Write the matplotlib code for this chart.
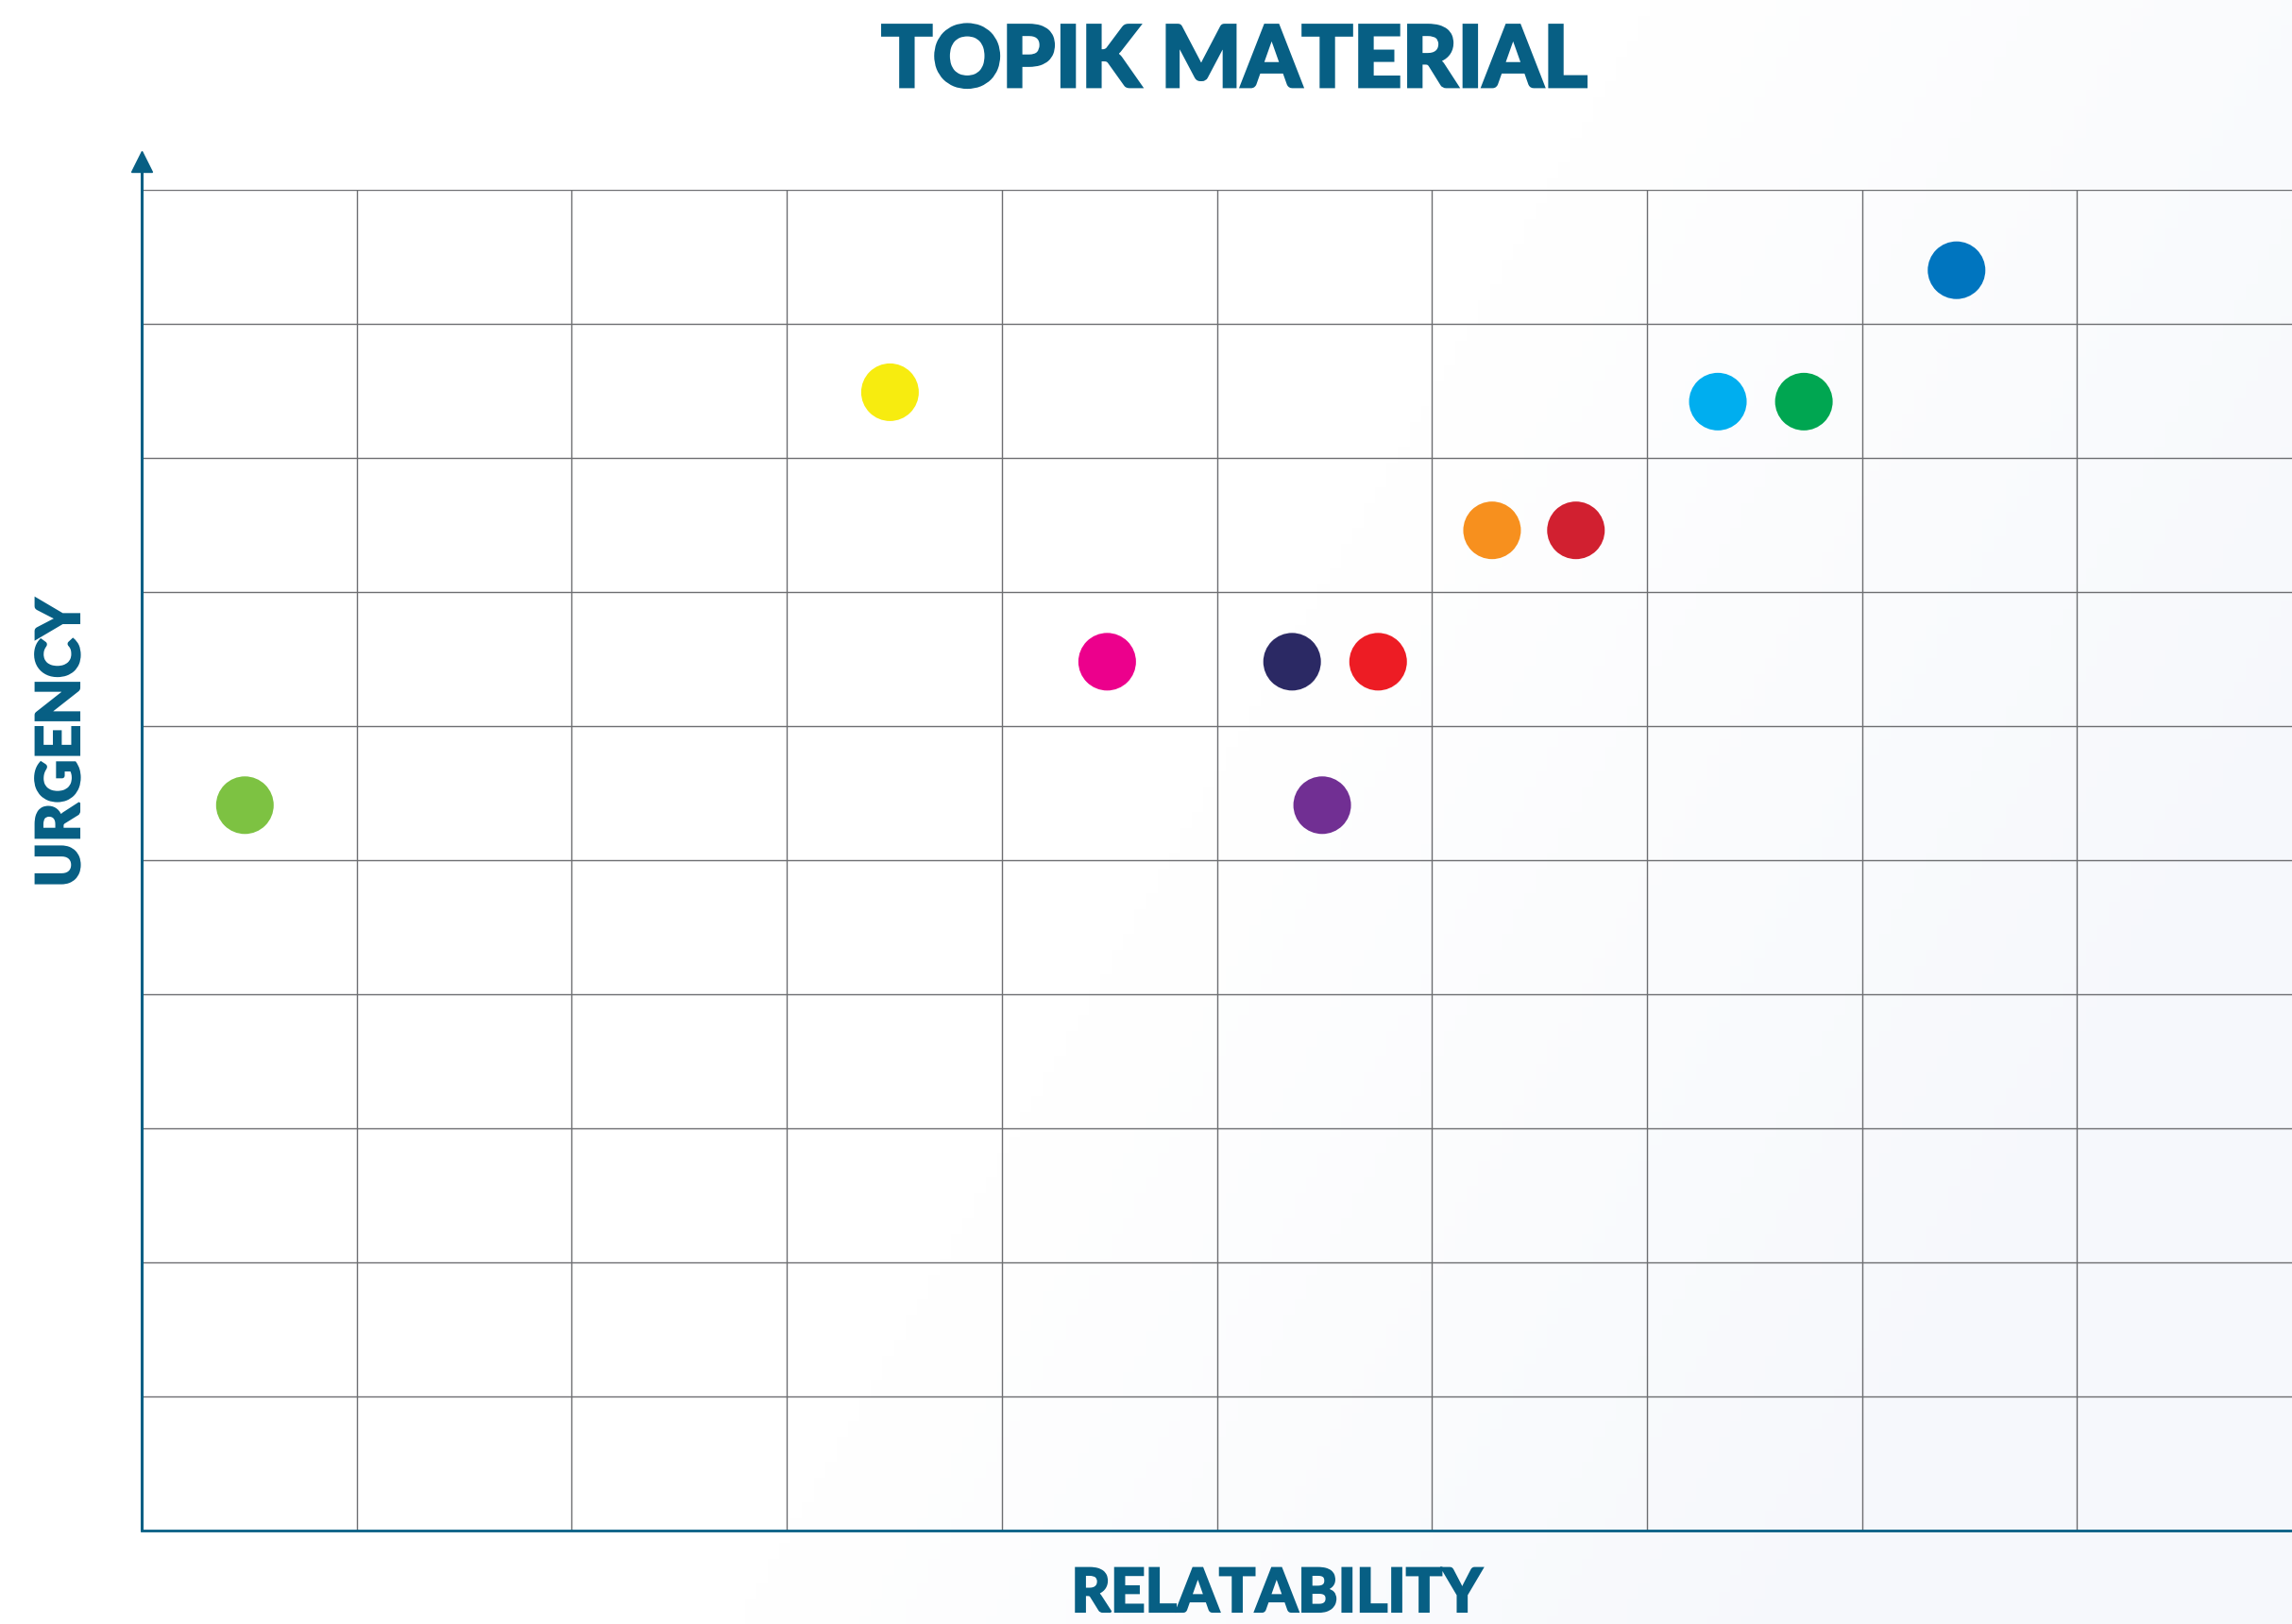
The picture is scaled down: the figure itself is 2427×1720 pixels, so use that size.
import numpy as np
import matplotlib
matplotlib.use("Agg")
import matplotlib.pyplot as plt
import matplotlib.patheffects as pe
from matplotlib.colors import LinearSegmentedColormap

# topics on a 10 x 10 relatability / urgency grid
relatability = [0.48, 3.48, 4.49, 5.35, 5.75, 5.49, 6.28, 6.67, 7.33, 7.73, 8.44]
urgency = [5.41, 8.49, 6.48, 6.48, 6.48, 5.41, 7.46, 7.46, 8.42, 8.42, 9.40]
dot_colors = ["#7dc242", "#f7ec0f", "#ec008c", "#2b2964", "#ed1c24", "#712f93",
              "#f7901e", "#d12030", "#00aeef", "#00a651", "#0075bf"]

title = "TOPIK MATERIAL"
xlabel = "RELATABILITY"
ylabel = "URGENCY"

teal = "#075f84"
grid_gray = "#6d6e71"

W, H = 2427, 1720
fig = plt.figure(figsize=(W / 100, H / 100), dpi=100)

# very faint bluish wash in the bottom right corner
bg = fig.add_axes([0, 0, 1, 1], zorder=0)
xx, yy = np.meshgrid(np.linspace(0, 1, 200), np.linspace(0, 1, 200))
wash = np.clip((xx - 0.6) * 2.0 + (yy - 0.3) * 0.8, 0, 1)
cmap = LinearSegmentedColormap.from_list("wash", ["#ffffff", "#f6f8fc"])
bg.imshow(wash, cmap=cmap, aspect="auto", extent=[0, 1, 0, 1], origin="upper")
bg.set_axis_off()

left, bottom, top = 150 / W, 1 - 1621 / H, 1 - 201 / H
ax = fig.add_axes([left, bottom, 1 - left, top - bottom], zorder=1)
ax.set_facecolor("none")
ax.set_xlim(0, 10)
ax.set_ylim(0, 10)

for v in range(1, 10):
    ax.axvline(v, color=grid_gray, lw=1.0, zorder=1)
for v in range(1, 11):
    ax.axhline(v, color=grid_gray, lw=1.0, zorder=1)

for s in ["top", "right", "left"]:
    ax.spines[s].set_visible(False)
ax.spines["bottom"].set_color(teal)
ax.spines["bottom"].set_linewidth(2.0)
ax.set_xticks([])
ax.set_yticks([])

# y axis with arrow head above the grid
arrow_top = 1 + (201 - 171) / 1420
ax.plot([0, 0], [0, arrow_top], transform=ax.transAxes, color=teal, lw=2.2,
        clip_on=False, zorder=3, solid_capstyle="butt")
ax.plot([0], [arrow_top], transform=ax.transAxes, marker="^", ms=16.5,
        color=teal, clip_on=False, zorder=3)

d = 61 * 72 / 100
ax.scatter(relatability, urgency, s=d ** 2, c=dot_colors, edgecolors="none",
           zorder=4, clip_on=False)

font = dict(family=["Lato", "DejaVu Sans"], weight="black", color=teal)
fig.text(1307 / W, 1 - 92 / H, title, ha="center", va="baseline",
         fontsize=65,
         path_effects=[pe.withStroke(linewidth=2.0, foreground=teal, joinstyle="miter")],
         **font)
fig.text(1352 / W, 2 / H, xlabel, ha="center", va="bottom", fontsize=46,
         path_effects=[pe.withStroke(linewidth=1.5, foreground=teal, joinstyle="miter")],
         **font)
fig.text(84 / W, 1 - 787 / H, ylabel, ha="center", va="baseline",
         rotation=90, rotation_mode="anchor", fontsize=46,
         path_effects=[pe.withStroke(linewidth=1.5, foreground=teal, joinstyle="miter")],
         **font)

fig.savefig("out.png", dpi=100)
